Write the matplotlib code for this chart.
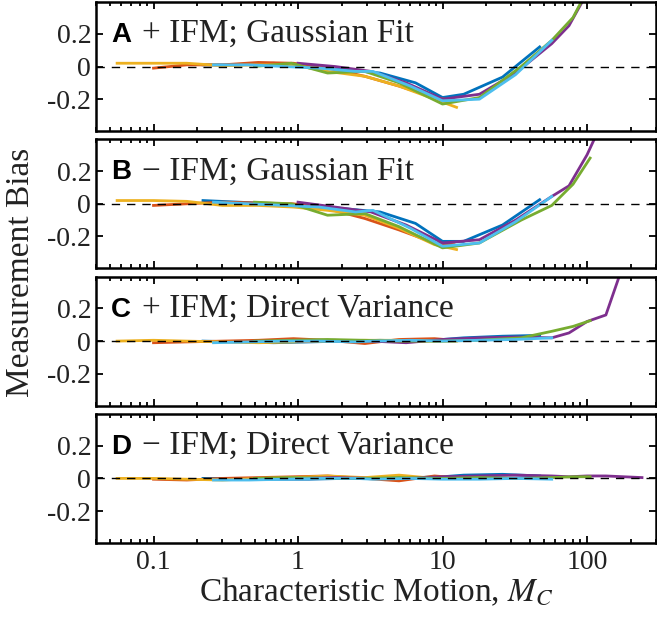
"""
Measurement bias vs characteristic motion, four panels (Gaussian fit / direct variance, with and without IFM).
"""

import matplotlib
matplotlib.use("Agg")
import matplotlib.pyplot as plt
from matplotlib.ticker import LogLocator, NullFormatter

plt.rcParams['font.family'] = 'serif'
plt.rcParams['font.serif'] = ['Liberation Serif', 'DejaVu Serif']
plt.rcParams['mathtext.fontset'] = 'stix'
plt.rcParams['axes.unicode_minus'] = False

# x values of each series (characteristic motion)
X_BLUE = [0.22, 0.39, 0.68, 1.2, 2.1, 3.7, 6.5, 10, 14, 26, 47]
X_ORANGE = [0.1, 0.17, 0.3, 0.53, 0.93, 1.6, 2.9, 5.0, 8.8, 12]
X_YELLOW = [0.056, 0.1, 0.17, 0.3, 0.53, 0.93, 1.6, 2.9, 5.0, 8.8, 12.5]
X_PURPLE = [1.0, 1.8, 3.2, 5.6, 10, 18, 32, 57, 75, 100, 135, 240]
X_GREEN = [0.5, 0.9, 1.6, 2.9, 5.0, 10, 18, 35, 57, 80, 105]
X_LBLUE = [0.26, 0.46, 0.8, 1.4, 2.5, 3.3, 6.0, 10, 18, 32, 57]

# panel A: + IFM, Gaussian fit
A_BLUE = [0.01, 0.01, 0.02, 0.0, -0.02, -0.04, -0.1, -0.19, -0.17, -0.065, 0.12]
A_ORANGE = [-0.01, 0.01, 0.01, 0.025, 0.02, -0.01, -0.06, -0.12, -0.19, -0.21]
A_YELLOW = [0.02, 0.02, 0.02, 0.005, 0.01, 0.01, -0.03, -0.06, -0.12, -0.2, -0.25]
A_PURPLE = [0.02, 0.0, -0.03, -0.1, -0.2, -0.17, -0.04, 0.14, 0.25, 0.45, 0.7, 1.3]
A_GREEN = [0.0, 0.02, -0.04, -0.03, -0.1, -0.23, -0.19, 0.0, 0.16, 0.3, 0.5]
A_LBLUE = [0.01, 0.01, 0.0, -0.01, -0.03, -0.03, -0.12, -0.21, -0.2, -0.05, 0.16]

# panel B: - IFM, Gaussian fit
B_BLUE = [0.02, 0.01, 0.0, -0.01, -0.03, -0.05, -0.12, -0.23, -0.23, -0.13, 0.025]
B_ORANGE = [-0.01, 0.0, 0.01, 0.005, 0.0, -0.03, -0.09, -0.16, -0.24, -0.25]
B_YELLOW = [0.02, 0.02, 0.015, -0.01, -0.01, -0.02, -0.04, -0.07, -0.15, -0.25, -0.28]
B_PURPLE = [0.01, -0.02, -0.05, -0.13, -0.24, -0.22, -0.1, 0.045, 0.11, 0.3, 0.55, 1.0]
B_GREEN = [0.01, 0.0, -0.07, -0.06, -0.14, -0.27, -0.24, -0.1, -0.01, 0.12, 0.28]
B_LBLUE = [0.01, 0.0, -0.01, -0.02, -0.05, -0.04, -0.15, -0.26, -0.24, -0.11, 0.045]

# panel C: + IFM, direct variance
C_BLUE = [0.0, -0.005, -0.01, -0.005, 0.0, 0.005, 0.0, 0.01, 0.02, 0.03, 0.035]
C_ORANGE = [-0.01, -0.005, 0.0, 0.005, 0.015, 0.005, -0.015, 0.01, 0.015, 0.005]
C_YELLOW = [0.0, 0.005, 0.0, -0.005, -0.01, -0.005, 0.0, 0.005, 0.005, 0.0, 0.0]
C_PURPLE = [0.0, 0.005, 0.0, -0.01, 0.01, 0.02, 0.025, 0.02, 0.05, 0.12, 0.16, 0.8]
C_GREEN = [0.0, 0.005, 0.01, 0.005, 0.0, 0.0, 0.005, 0.02, 0.06, 0.09, 0.125]
C_LBLUE = [-0.01, -0.005, 0.0, 0.0, -0.005, 0.0, 0.005, 0.0, 0.005, 0.01, 0.02]

# panel D: - IFM, direct variance
D_BLUE = [0.0, 0.0, -0.005, -0.005, 0.0, 0.005, 0.005, 0.01, 0.02, 0.025, 0.015]
D_ORANGE = [-0.005, -0.01, 0.0, 0.005, 0.01, 0.015, 0.0, -0.015, 0.015, 0.005]
D_YELLOW = [0.0, 0.0, -0.005, -0.01, 0.0, 0.005, 0.015, 0.005, 0.02, 0.0, 0.005]
D_PURPLE = [0.0, 0.005, 0.0, 0.0, 0.01, 0.015, 0.02, 0.015, 0.01, 0.015, 0.015, 0.005]
D_GREEN = [0.0, 0.005, 0.0, 0.0, 0.005, 0.0, 0.005, 0.0, 0.005, 0.01, 0.01]
D_LBLUE = [-0.01, -0.01, -0.005, 0.0, 0.0, -0.005, 0.0, -0.005, -0.005, 0.0, -0.005]

LETTERS = ['A', 'B', 'C', 'D']
TITLES = ['+ IFM; Gaussian Fit', '\u2212 IFM; Gaussian Fit',
          '+ IFM; Direct Variance', '\u2212 IFM; Direct Variance']
YTICKS = [-0.2, 0, 0.2]
YTICK_LABELS = ['-0.2', '0', '0.2']
XTICKS = [0.1, 1, 10, 100]
XTICK_LABELS = ['0.1', '1', '10', '100']

COLORS = ['#0072BD', '#D95319', '#EDB120', '#7E2F8E', '#77AC30', '#4DBEEE']
XS = [X_BLUE, X_ORANGE, X_YELLOW, X_PURPLE, X_GREEN, X_LBLUE]
PANELS = [
    [A_BLUE, A_ORANGE, A_YELLOW, A_PURPLE, A_GREEN, A_LBLUE],
    [B_BLUE, B_ORANGE, B_YELLOW, B_PURPLE, B_GREEN, B_LBLUE],
    [C_BLUE, C_ORANGE, C_YELLOW, C_PURPLE, C_GREEN, C_LBLUE],
    [D_BLUE, D_ORANGE, D_YELLOW, D_PURPLE, D_GREEN, D_LBLUE],
]


def main() -> None:
    W, H = 657, 623
    fig = plt.figure(figsize=(W / 100, H / 100), dpi=100)
    left, right = 96 / W, 656 / W
    panel_h = 129
    gap = 8.3
    text_col = '#222222'

    axes = []
    for i in range(4):
        top_px = 2 + i * (panel_h + gap)
        bottom = 1 - (top_px + panel_h) / H
        ax = fig.add_axes([left, bottom, right - left, panel_h / H],
                          sharex=axes[0] if axes else None)
        axes.append(ax)

        for x, y, c in zip(XS, PANELS[i], COLORS):
            ax.plot(x, y, color=c, lw=2.0, solid_joinstyle='round')
        ax.axhline(0, color='black', lw=1.0, ls=(0, (6, 5)), zorder=5)

        ax.set_xscale('log')
        ax.set_xlim(0.04, 300)
        ax.set_ylim(-0.395, 0.395)
        ax.set_yticks(YTICKS)
        ax.set_yticklabels(YTICK_LABELS, fontsize=20, color=text_col)
        ax.xaxis.set_minor_locator(LogLocator(base=10, subs=range(2, 10), numticks=20))
        ax.xaxis.set_minor_formatter(NullFormatter())
        ax.tick_params(which='both', direction='in', top=True, right=True, width=1.3)
        ax.tick_params(which='major', length=5)
        ax.tick_params(which='minor', length=3)
        for s in ax.spines.values():
            s.set_linewidth(1.8)

        ax.text(0.027, 0.69, LETTERS[i], transform=ax.transAxes, fontsize=20,
                fontweight='bold', family='Liberation Sans', color='black', va='baseline')
        ax.text(0.082, 0.69, TITLES[i], transform=ax.transAxes, fontsize=24,
                color=text_col, va='baseline')

        if i < 3:
            ax.tick_params(labelbottom=False)

    axes[-1].set_xticks(XTICKS)
    axes[-1].set_xticklabels(XTICK_LABELS, fontsize=20, color=text_col)
    axes[-1].tick_params(axis='x', pad=5)
    axes[-1].set_xlabel('Characteristic Motion, $M_C$', fontsize=24, color=text_col, labelpad=1)

    fig.text(0.032, 1 - 272 / H, 'Measurement Bias', rotation=90, fontsize=24,
             color=text_col, ha='center', va='center')

    fig.savefig('out.png', dpi=100)


if __name__ == "__main__":
    main()
